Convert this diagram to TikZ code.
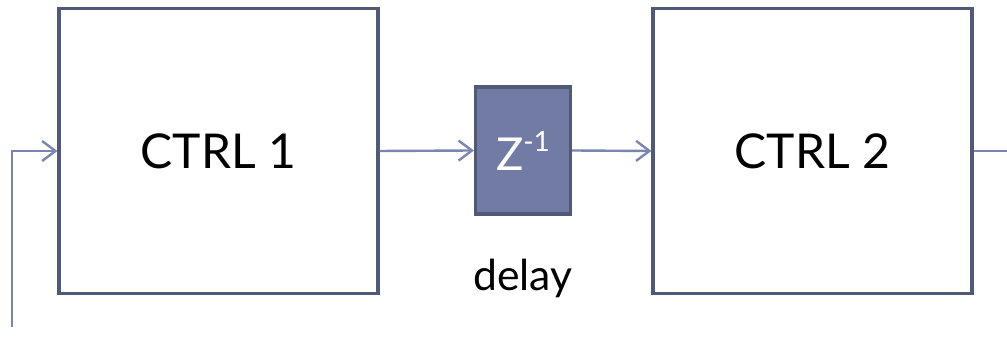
\documentclass[tikz,border=0pt]{standalone}
\usepackage{fontspec}
\setmainfont{Lato}
\usetikzlibrary{positioning, arrows.meta}

\definecolor{boxline}{RGB}{80,90,120}
\definecolor{linkcol}{RGB}{122,133,176}
\definecolor{delayfill}{RGB}{113,123,163}

\tikzset{
  ctrlbox/.style={draw=boxline, line width=2.6pt, minimum width=239pt, minimum height=214pt, font=\fontsize{36}{40}\selectfont},
  delaybox/.style={draw=boxline, fill=delayfill, line width=2.6pt, minimum width=71pt, minimum height=95pt, text=white, font=\fontsize{34}{36}\selectfont},
  link/.style={draw=linkcol, line width=1.8pt, -{Straight Barb[length=10pt, width=15pt]}}
}

\begin{document}
\begin{tikzpicture}[x=0.75pt, y=0.75pt]

    \useasboundingbox (0,0) rectangle (1007,341);

    \node (ctrlA) [ctrlbox] at (218.5,190) {CTRL 1};
    \node (delay) [delaybox] at (523,190.5) {Z\raisebox{0.42em}{\fontsize{21}{22}\selectfont -1}};
    \node (ctrlB) [ctrlbox] at (812.5,190) {CTRL 2};
    \node (delaytxt) [font=\fontsize{32}{36}\selectfont] at (523,63) {delay};

    \coordinate (fbin) at (12,14);
    \coordinate (out) at (1007,190);

    \draw[link] (fbin) |- (ctrlA.west);
    \draw[link] (ctrlA.east) -- (delay.west);
    \draw[link] (delay.east) -- (ctrlB.west);
    \draw[link,-] (ctrlB.east) -- (out);

\end{tikzpicture}
\end{document}
